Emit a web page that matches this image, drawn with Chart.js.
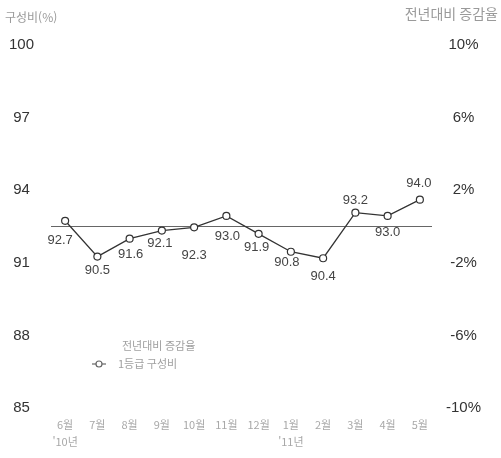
<!DOCTYPE html>
<html lang="ko">
<head>
<meta charset="utf-8">
<title>구성비 및 전년대비 증감율</title>
<script src="https://cdn.jsdelivr.net/npm/chart.js@4.4.1/dist/chart.umd.min.js"></script>
<style>
    html, body { margin: 0; padding: 0; background: #fff; }
    #wrap { width: 501px; height: 458px; }
</style>
</head>
<body>
<div id="wrap"><canvas id="shareChart" width="501" height="458"></canvas></div>
<script>
// --- Data ---
const months = ['6월', '7월', '8월', '9월', '10월', '11월', '12월', '1월', '2월', '3월', '4월', '5월'];
const yearMarks = ["'10년", '', '', '', '', '', '', "'11년", '', '', '', ''];
const shareValues = [92.7, 90.5, 91.6, 92.1, 92.3, 93.0, 91.9, 90.8, 90.4, 93.2, 93.0, 94.0];
const shareTicks = [85, 88, 91, 94, 97, 100];
const changeTicks = [-10, -6, -2, 2, 6, 10];
const leftTitle = '구성비(%)';
const rightTitle = '전년대비 증감율';
const legendTexts = ['전년대비 증감율', '1등급 구성비'];

const FONT = "'Liberation Sans', Arial, 'Noto Sans CJK KR', sans-serif";
const KFONT = "'Noto Sans CJK KR', 'Liberation Sans', sans-serif";

// x labels: month, with the year under the first month of each year
const xLabels = months.map((m, i) => yearMarks[i] ? [m, yearMarks[i]] : m);

// --- Plugins ---
const zeroLine = {
    id: 'zeroLine',
    beforeDatasetsDraw(chart) {
        const { ctx, chartArea, scales } = chart;
        const y = scales.y2.getPixelForValue(0);
        ctx.save();
        ctx.strokeStyle = '#666';
        ctx.lineWidth = 1;
        ctx.beginPath();
        ctx.moveTo(chartArea.left + 2, y);
        ctx.lineTo(chartArea.right - 4, y);
        ctx.stroke();
        ctx.restore();
    }
};

const valueLabels = {
    id: 'valueLabels',
    afterDatasetsDraw(chart, args, opts) {
        const { ctx } = chart;
        const meta = chart.getDatasetMeta(0);
        const ds = chart.data.datasets[0];
        ctx.save();
        ctx.font = '13px ' + FONT;
        ctx.fillStyle = '#444';
        ctx.textAlign = 'center';
        ctx.textBaseline = 'middle';
        meta.data.forEach((pt, i) => {
            const off = opts.offsets[i] || [0, 16];
            ctx.fillText(ds.data[i].toFixed(1), pt.x + off[0], pt.y + off[1]);
        });
        ctx.restore();
    }
};

const headerAndLegend = {
    id: 'headerAndLegend',
    afterDraw(chart) {
        const { ctx } = chart;
        ctx.save();
        ctx.fillStyle = '#9a9a9a';
        ctx.textBaseline = 'middle';
        ctx.font = '12px ' + KFONT;
        ctx.textAlign = 'left';
        ctx.fillText(leftTitle, 5, 17);
        ctx.font = '14px ' + KFONT;
        ctx.textAlign = 'right';
        ctx.fillText(rightTitle, 498, 14);

        // legend inside plot
        ctx.font = '11px ' + KFONT;
        ctx.textAlign = 'left';
        ctx.fillStyle = '#a0a0a0';
        ctx.fillText(legendTexts[0], 122, 346);
        ctx.fillText(legendTexts[1], 118, 364);
        ctx.strokeStyle = '#666';
        ctx.lineWidth = 1.2;
        ctx.beginPath();
        ctx.moveTo(92, 364);
        ctx.lineTo(106, 364);
        ctx.stroke();
        ctx.beginPath();
        ctx.fillStyle = '#fff';
        ctx.arc(99, 364, 3, 0, Math.PI * 2);
        ctx.fill();
        ctx.stroke();
        ctx.restore();
    }
};

// --- Chart ---
new Chart(document.getElementById('shareChart'), {
    type: 'line',
    data: {
        labels: xLabels,
        datasets: [{
            label: legendTexts[1],
            data: shareValues,
            yAxisID: 'yLine',
            borderColor: '#333',
            borderWidth: 1.3,
            tension: 0,
            pointRadius: 3.5,
            pointBorderWidth: 1.2,
            pointBackgroundColor: '#fff',
            pointBorderColor: '#333'
        }]
    },
    options: {
        responsive: false,
        animation: false,
        layout: { padding: { top: 45, left: 0, right: 0, bottom: 0 } },
        plugins: {
            legend: { display: false },
            tooltip: { enabled: false },
            valueLabels: {
                offsets: [[-5, 20], [0, 14], [1, 16], [-2, 13], [0, 28], [1, 21],
                          [-2, 14], [-4, 11], [0, 18], [0, -12], [0, 17], [-1, -16]]
            }
        },
        scales: {
            x: {
                offset: true,
                grid: { display: false, drawTicks: false },
                border: { display: false },
                ticks: {
                    autoSkip: false,
                    maxRotation: 0,
                    padding: 8,
                    color: '#a8a8a8',
                    font: { family: KFONT, size: 11, lineHeight: 17 / 11 }
                },
                afterFit(scale) { scale.height = 50; }
            },
            y: {
                position: 'left',
                min: 85,
                max: 100,
                grid: { display: false, drawTicks: false },
                border: { display: false },
                afterBuildTicks(scale) { scale.ticks = shareTicks.map(v => ({ value: v })); },
                ticks: {
                    crossAlign: 'center',
                    padding: 15,
                    color: '#333',
                    font: { family: FONT, size: 15 }
                },
                afterFit(scale) { scale.width = 49; }
            },
            y2: {
                position: 'right',
                min: -10,
                max: 10,
                grid: { display: false, drawTicks: false },
                border: { display: false },
                afterBuildTicks(scale) { scale.ticks = changeTicks.map(v => ({ value: v })); },
                ticks: {
                    crossAlign: 'center',
                    padding: 10,
                    color: '#333',
                    font: { family: FONT, size: 15 },
                    callback: v => v + '%'
                },
                afterFit(scale) { scale.width = 65; }
            },
            yLine: {
                display: false,
                min: 81.2,
                max: 103.5
            }
        }
    },
    plugins: [zeroLine, valueLabels, headerAndLegend]
});
</script>
</body>
</html>
